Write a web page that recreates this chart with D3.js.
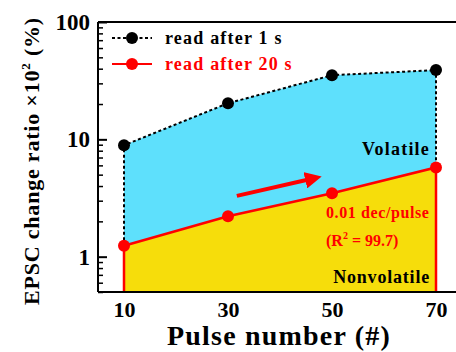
<!DOCTYPE html>
<html>
<head>
<meta charset="utf-8">
<script src="https://cdn.jsdelivr.net/npm/d3@7"></script>
<style>
  html, body { margin: 0; padding: 0; background: #fff; }
  svg { display: block; }
  svg text { font-family: "Liberation Serif", "Times New Roman", serif; font-weight: bold; }
</style>
</head>
<body>
<svg id="chart" width="456" height="352"></svg>
<script>
const pulses = [10, 30, 50, 70];
const read1s = [8.9, 20.3, 35.2, 38.9];
const read20s = [1.24, 2.21, 3.47, 5.76];
const xTicks = [10, 30, 50, 70];
const yTicks = [1, 10, 100];

const svg = d3.select('#chart');
const plotLeft = 98, plotTop = 22, plotBottom = 292, plotRight = 462;

const x = d3.scaleLinear().domain([5, 75]).range([plotLeft, plotRight]);
const y = d3.scaleLog().domain([0.5, 100]).range([plotBottom, plotTop]);

const pts = pulses.map((p, i) => ({ p, hi: read1s[i], lo: read20s[i] }));

// volatile region (between the two curves)
svg.append('path')
  .datum(pts)
  .attr('fill', '#5EE0FC')
  .attr('d', d3.area().x(d => x(d.p)).y0(d => y(d.lo)).y1(d => y(d.hi)));

// nonvolatile region (under the 20 s curve)
svg.append('path')
  .datum(pts)
  .attr('fill', '#F6DD0B')
  .attr('d', d3.area().x(d => x(d.p)).y0(plotBottom).y1(d => y(d.lo)));

// arrow annotation
const arrowFrom = [31.7, 3.3], arrowTo = [45.5, 4.55];
svg.append('defs').append('marker')
  .attr('id', 'head')
  .attr('viewBox', '0 0 10 10')
  .attr('refX', 2).attr('refY', 5)
  .attr('markerWidth', 4.2).attr('markerHeight', 4.2)
  .attr('orient', 'auto')
  .append('path').attr('d', 'M0,0 L10,5 L0,10 Z').attr('fill', '#FF0000');
svg.append('line')
  .attr('x1', x(arrowFrom[0])).attr('y1', y(arrowFrom[1]))
  .attr('x2', x(arrowTo[0])).attr('y2', y(arrowTo[1]))
  .attr('stroke', '#FF0000').attr('stroke-width', 4)
  .attr('marker-end', 'url(#head)');

// red curve with vertical drops
const redPath = [[pulses[0], 0.5]].concat(pulses.map((p, i) => [p, read20s[i]]), [[pulses[3], 0.5]]);
svg.append('path')
  .attr('fill', 'none').attr('stroke', '#FF0000').attr('stroke-width', 2.5)
  .attr('d', d3.line().x(d => x(d[0])).y(d => y(d[1]))(redPath));

// black dotted curve with vertical connections
const blackPath = [[pulses[0], read20s[0]]].concat(pulses.map((p, i) => [p, read1s[i]]), [[pulses[3], read20s[3]]]);
svg.append('path')
  .attr('fill', 'none').attr('stroke', '#000').attr('stroke-width', 2)
  .attr('stroke-dasharray', '3,2.5')
  .attr('d', d3.line().x(d => x(d[0])).y(d => y(d[1]))(blackPath));

svg.selectAll('.dot-hi').data(pts).enter().append('circle')
  .attr('cx', d => x(d.p)).attr('cy', d => y(d.hi)).attr('r', 6).attr('fill', '#000');
svg.selectAll('.dot-lo').data(pts).enter().append('circle')
  .attr('cx', d => x(d.p)).attr('cy', d => y(d.lo)).attr('r', 6).attr('fill', '#FF0000');

// frame: top line
svg.append('line').attr('x1', plotLeft).attr('x2', 456).attr('y1', plotTop).attr('y2', plotTop)
  .attr('stroke', '#000').attr('stroke-width', 2);

// x axis (labels only)
const xAxis = svg.append('g')
  .attr('transform', `translate(0,${plotBottom})`)
  .call(d3.axisBottom(x).tickValues(xTicks).tickSize(0).tickPadding(9));
xAxis.select('.domain').attr('d', `M${plotLeft},0H456`).attr('stroke-width', 2);
xAxis.selectAll('text').attr('font-size', 22).attr('fill', '#000');

// y axis, inward ticks
const minors = [];
[0.1, 1, 10].forEach(b => d3.range(2, 10).forEach(k => { const v = b * k; if (v >= 0.5 && v < 100) minors.push(v); }));
const yMinor = svg.append('g')
  .attr('transform', `translate(${plotLeft},0)`)
  .call(d3.axisRight(y).tickValues(minors).tickSize(5).tickFormat(''));
yMinor.select('.domain').remove();
yMinor.selectAll('line').attr('stroke-width', 1.5);

const yAxis = svg.append('g')
  .attr('transform', `translate(${plotLeft},0)`)
  .call(d3.axisLeft(y).tickValues(yTicks).tickSize(-9).tickPadding(8).tickFormat(d3.format('d')));
yAxis.select('.domain').attr('d', `M0,${plotTop}V${plotBottom}`).attr('stroke-width', 2);
yAxis.selectAll('line').attr('stroke-width', 2);
yAxis.selectAll('text').attr('font-size', 23).attr('fill', '#000');

// axis titles
svg.append('text')
  .attr('x', 279).attr('y', 345)
  .attr('text-anchor', 'middle')
  .attr('font-size', 28).attr('letter-spacing', 1.2)
  .text('Pulse number (#)');

const yTitle = svg.append('text')
  .attr('transform', 'translate(39,161) rotate(-90)')
  .attr('text-anchor', 'middle')
  .attr('font-size', 22).attr('letter-spacing', 0.8);
yTitle.append('tspan').text('EPSC change ratio ×10');
yTitle.append('tspan').attr('dy', -9).attr('font-size', 13).text('2');
yTitle.append('tspan').attr('dy', 9).text(' (%)');

// legend
const legend = [
  { label: 'read after 1 s', color: '#000', dash: '3,2.5', y: 38 },
  { label: 'read after 20 s', color: '#FF0000', dash: null, y: 64 }
];
legend.forEach(l => {
  svg.append('line')
    .attr('x1', 112).attr('x2', 152).attr('y1', l.y).attr('y2', l.y)
    .attr('stroke', l.color).attr('stroke-width', 2)
    .attr('stroke-dasharray', l.dash);
  svg.append('circle').attr('cx', 132).attr('cy', l.y).attr('r', 6).attr('fill', l.color);
  svg.append('text')
    .attr('x', 165).attr('y', l.y + 6)
    .attr('font-size', 18).attr('letter-spacing', 1.2)
    .attr('fill', l.color)
    .text(l.label);
});

// region labels
svg.append('text').attr('x', 430).attr('y', 155).attr('text-anchor', 'end')
  .attr('font-size', 18).attr('letter-spacing', 1.2).text('Volatile');
svg.append('text').attr('x', 430).attr('y', 283).attr('text-anchor', 'end')
  .attr('font-size', 18).attr('letter-spacing', 0.8).text('Nonvolatile');

const fit = svg.append('g').attr('fill', '#FF0000').attr('font-size', 16);
fit.append('text').attr('x', 326).attr('y', 218).attr('letter-spacing', 0.6).text('0.01 dec/pulse');
const r2 = fit.append('text').attr('x', 326).attr('y', 246);
r2.append('tspan').text('(R');
r2.append('tspan').attr('dy', -7).attr('font-size', 10).text('2');
r2.append('tspan').attr('dy', 7).text(' = 99.7)');
</script>
</body>
</html>
